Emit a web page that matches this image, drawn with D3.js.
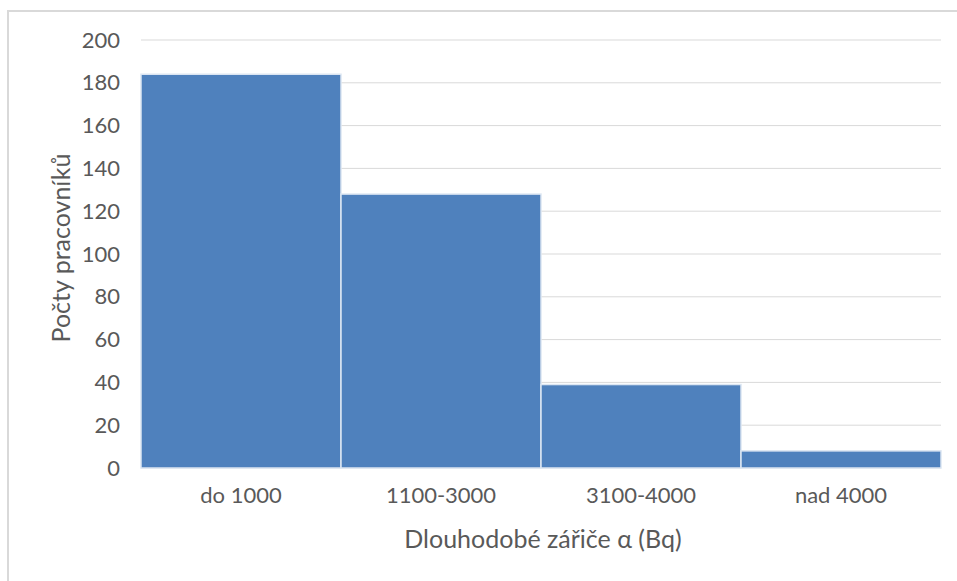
<!DOCTYPE html>
<html>
<head>
<meta charset="utf-8">
<script src="https://cdn.jsdelivr.net/npm/d3@7"></script>
<style>
  body { margin: 0; background: #fff; }
  svg text { font-family: Lato, "Open Sans", sans-serif; fill: #595959; }
</style>
</head>
<body>
<svg id="chart" width="957" height="581"></svg>
<script>
// Počty pracovníků podle dlouhodobých zářičů α
const categories = ["do 1000", "1100-3000", "3100-4000", "nad 4000"];
const counts = [184, 128, 39, 8];
const yTicks = [0, 20, 40, 60, 80, 100, 120, 140, 160, 180, 200];

const svg = d3.select("#chart");
const margin = { left: 141, right: 16, top: 40, bottom: 113 };
const W = 957, H = 581;

// chart frame
svg.append("path")
  .attr("d", "M8,581V11H957")
  .attr("fill", "none")
  .attr("stroke", "#d9d9d9")
  .attr("stroke-width", 2);

const x = d3.scaleBand()
  .domain(categories)
  .range([margin.left, W - margin.right])
  .padding(0);

const y = d3.scaleLinear()
  .domain([0, 200])
  .range([H - margin.bottom, margin.top]);

// gridlines
svg.append("g")
  .selectAll("line")
  .data(yTicks)
  .join("line")
  .attr("x1", margin.left)
  .attr("x2", W - margin.right)
  .attr("y1", d => y(d))
  .attr("y2", d => y(d))
  .attr("stroke", "#d9d9d9")
  .attr("stroke-width", 1);

// y axis labels
const yAxis = d3.axisLeft(y).tickValues(yTicks).tickSize(0).tickPadding(21);
const gy = svg.append("g").attr("transform", `translate(${margin.left},0)`).call(yAxis);
gy.select(".domain").remove();
gy.selectAll("text").style("font-size", "22px").attr("fill", "#595959");

// bars
svg.append("g")
  .selectAll("rect")
  .data(counts)
  .join("rect")
  .attr("x", (d, i) => x(categories[i]))
  .attr("width", x.bandwidth())
  .attr("y", d => y(d))
  .attr("height", d => y(0) - y(d))
  .attr("fill", "#4f81bd")
  .attr("stroke", "#dce6f2")
  .attr("stroke-width", 1.5);

// x axis labels
const xAxis = d3.axisBottom(x).tickSize(0).tickPadding(19);
const gx = svg.append("g").attr("transform", `translate(0,${y(0)})`).call(xAxis);
gx.select(".domain").remove();
gx.selectAll("text").style("font-size", "22px").attr("fill", "#595959");

// axis titles
svg.append("text")
  .attr("x", (margin.left + W - margin.right) / 2 + 2)
  .attr("y", 548)
  .attr("text-anchor", "middle")
  .style("font-size", "25px")
  .text("Dlouhodobé zářiče α (Bq)");

svg.append("text")
  .attr("transform", `translate(70,248) rotate(-90)`)
  .attr("text-anchor", "middle")
  .style("font-size", "25px")
  .text("Počty pracovníků");
</script>
</body>
</html>
